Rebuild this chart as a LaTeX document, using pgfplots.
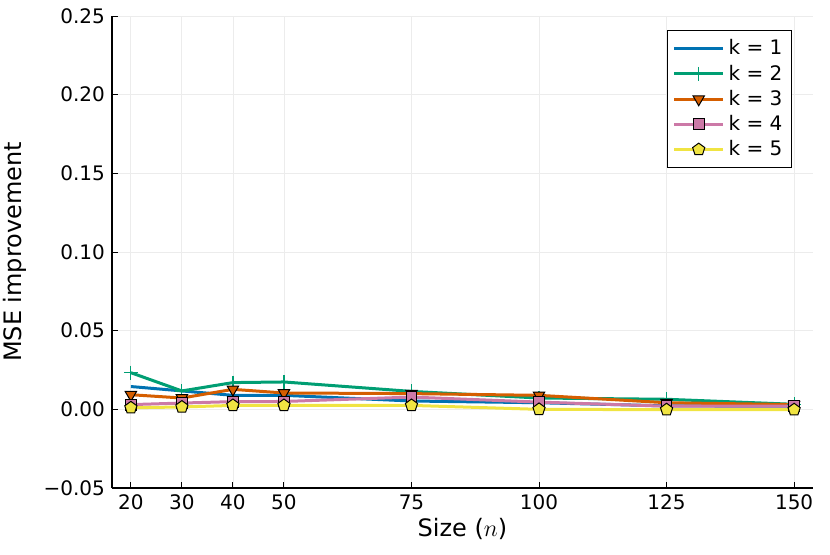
\documentclass[border=0pt]{standalone}
\usepackage{pgfplots}
\pgfplotsset{compat=1.18}
\usepackage{fontspec}
\setmainfont{DejaVu Sans}
\definecolor{c1}{HTML}{0072B2}
\definecolor{c2}{HTML}{009E73}
\definecolor{c3}{HTML}{D55E00}
\definecolor{c4}{HTML}{CC79A7}
\definecolor{c5}{HTML}{F0E442}
\begin{document}
\begin{tikzpicture}
\useasboundingbox (-56pt,-33pt) rectangle (359pt,244pt);
\begin{axis}[
  scale only axis, width=350.5pt, height=236pt,
  xmin=16.3, xmax=153.7, ymin=-0.05, ymax=0.25,
  axis x line*=bottom, axis y line*=left,
  axis line style={line width=0.6pt, -},
  xtick={20,30,40,50,75,100,125,150},
  ytick={-0.05,0,0.05,0.1,0.15,0.2,0.25},
  yticklabels={−0.05,0.00,0.05,0.10,0.15,0.20,0.25},
  /pgf/number format/assume math mode=true,
  /pgf/number format/1000 sep={},
  tick align=inside, major tick length=3pt,
  tick style={black, line width=0.5pt},
  ticklabel style={font=\fontsize{10}{11}\selectfont},
  grid=major, grid style={gray!15, line width=0.4pt},
  xlabel={Size ($n$)}, ylabel={MSE improvement},
  label style={font=\fontsize{12}{13}\selectfont},
  xlabel style={yshift=3pt}, ylabel style={yshift=1.5pt},
  legend style={at={(0.97,0.97)}, anchor=north east, font=\fontsize{10}{12}\selectfont,
    draw=black, line width=0.5pt, inner sep=2.5pt, row sep=-0.5pt},
  legend cell align=left,
  legend image code/.code={\draw[#1, mark repeat=2, mark phase=2] plot coordinates {(0cm,0cm) (0.43cm,0cm) (0.86cm,0cm)};},
  every axis plot/.append style={line width=1.5pt},
]
\addplot[c1, no marks] coordinates {(20,0.0145) (30,0.0117) (40,0.0089) (50,0.0089) (75,0.0053) (100,0.0042) (125,0.0022) (150,0.0020)};
\addlegendentry{k = 1}
\addplot[c2, mark=+, mark size=3.5pt, mark options={line width=0.6pt}] coordinates {(20,0.0233) (30,0.0117) (40,0.0170) (50,0.0174) (75,0.0114) (100,0.0072) (125,0.0064) (150,0.0032)};
\addlegendentry{k = 2}
\addplot[c3, mark=triangle*, mark size=3.3pt, mark options={rotate=180, fill=c3, draw=black, line width=0.5pt}] coordinates {(20,0.0093) (30,0.0072) (40,0.0127) (50,0.0104) (75,0.0100) (100,0.0089) (125,0.0042) (150,0.0030)};
\addlegendentry{k = 3}
\addplot[c4, mark=square*, mark size=2.7pt, mark options={fill=c4, draw=black, line width=0.5pt}] coordinates {(20,0.0030) (30,0.0040) (40,0.0049) (50,0.0050) (75,0.0078) (100,0.0046) (125,0.0020) (150,0.0020)};
\addlegendentry{k = 4}
\addplot[c5, mark=pentagon*, mark size=3.2pt, mark options={fill=c5, draw=black, line width=0.5pt}] coordinates {(20,0.0010) (30,0.0015) (40,0.0025) (50,0.0025) (75,0.0025) (100,0.0000) (125,-0.0002) (150,-0.0002)};
\addlegendentry{k = 5}
\end{axis}
\end{tikzpicture}
\end{document}
